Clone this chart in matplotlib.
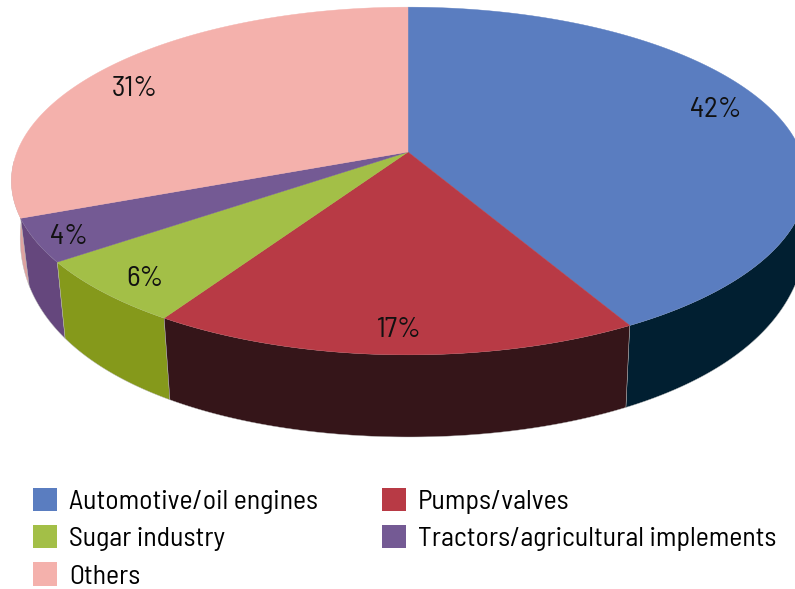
import numpy as np
import matplotlib
matplotlib.use("Agg")
import matplotlib.pyplot as plt
from matplotlib.patches import Polygon, Patch

categories = ["Automotive/oil engines", "Pumps/valves", "Sugar industry",
              "Tractors/agricultural implements", "Others"]
values = [42, 17, 6, 4, 31]
top_colors = ["#5A7DC0", "#B83A45", "#A3BF47", "#745A94", "#F4B1AC"]
side_colors = ["#011F31", "#351519", "#85991B", "#65477D", "#DDA3A0"]
label_xy = [(716, 110), (398, 330), (145, 279), (69, 237), (135, 89)]

plt.rcParams['font.family'] = ['Barlow Semi Condensed', 'Lato', 'DejaVu Sans']


def top_face(a):
    # a is clockwise from 12 o'clock, perspective view of the disc
    u, v = np.sin(a), -np.cos(a)
    d = 1 - 0.1667 * v
    return 408 + np.where(u < 0, 391, 393) * u / d, 152 + 169 * v / d


def bottom_edge(a):
    u, v = np.sin(a), -np.cos(a)
    d = 1 - 0.1667 * v
    # the right side of the wall reaches a bit further out than the left
    return 409 + 0.978 * 392 * u / d + 10 * np.maximum(u, 0) * (1 - v), 198 + 239 * v


fig = plt.figure(figsize=(7.95, 5.89), dpi=100)
ax = fig.add_axes([0, 0, 1, 1])
ax.set_xlim(0, 795)
ax.set_ylim(589, 0)
ax.axis("off")

edges = np.cumsum([0] + values) / sum(values) * 2 * np.pi

# sides first, back slices before front ones. only the front half has a wall
for i in [4, 0, 3, 2, 1]:
    a = np.linspace(edges[i], edges[i + 1], 200)
    a = a[-np.cos(a) > 0.05]
    tx, ty = top_face(a)
    bx, by = bottom_edge(a)
    pts = np.column_stack([np.r_[tx, bx[::-1]], np.r_[ty, by[::-1]]])
    ax.add_patch(Polygon(pts, closed=True, fc=side_colors[i], ec="#B9B9B9", lw=0.3, zorder=1))

for i in range(len(values)):
    a = np.linspace(edges[i], edges[i + 1], 200)
    tx, ty = top_face(a)
    pts = np.column_stack([np.r_[408, tx], np.r_[152, ty]])
    ax.add_patch(Polygon(pts, closed=True, fc=top_colors[i], ec=top_colors[i], lw=0.3, zorder=2))
    ax.text(label_xy[i][0], label_xy[i][1], f"{values[i]}%", fontsize=21, color="#111111",
            ha="center", va="center", zorder=3)

# legend fills column by column, so reorder to get the row layout
order = [0, 2, 4, 1, 3]
handles = [Patch(fc=top_colors[i], ec="none", label=categories[i]) for i in order]
ax.legend(handles=handles, ncol=2, frameon=False, fontsize=20,
          loc="upper left", bbox_to_anchor=(33 / 795, 1 - 488 / 589), borderaxespad=0, borderpad=0,
          handlelength=0.86, handleheight=0.9, handletextpad=0.43,
          labelspacing=0.4, columnspacing=2.3)

fig.savefig("out.png", dpi=100)
